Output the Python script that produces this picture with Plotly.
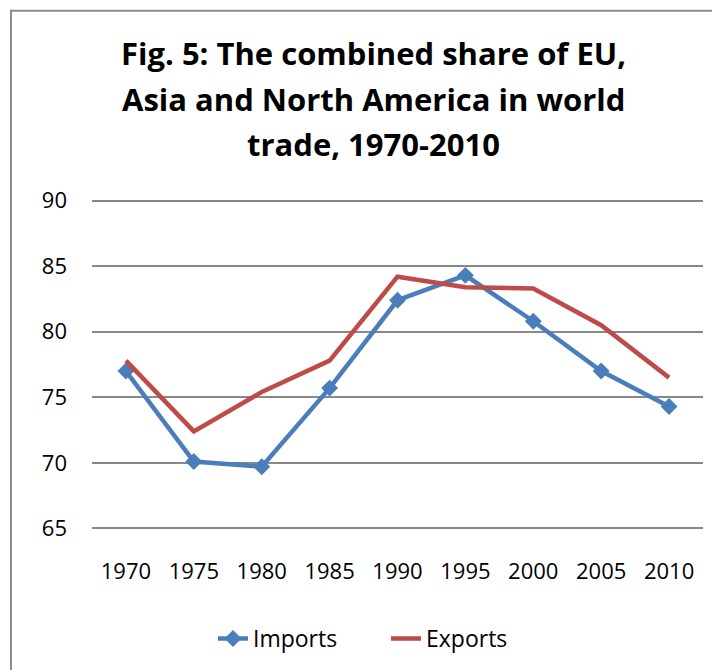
import plotly.graph_objects as go

years = ["1970", "1975", "1980", "1985", "1990", "1995", "2000", "2005", "2010"]
imports = [77.0, 70.1, 69.7, 75.7, 82.4, 84.3, 80.8, 77.0, 74.3]
exports = [77.8, 72.4, 75.4, 77.8, 84.2, 83.4, 83.3, 80.5, 76.5]
title_lines = ["Fig. 5: The combined share of EU,",
               "Asia and North America in world",
               "trade, 1970-2010"]

FONT = "Open Sans"
OFF = 8  # page body margin
W, H = 720 - OFF, 670 - OFF
# target pixel positions in the 720x670 window
Y_TOP, Y_BOT = 90.2, 64.8
UNIT = 13.04
top_px = 200.7 - (Y_TOP - 90) * UNIT
bot_px = 528.0 + (65 - Y_BOT) * UNIT
L = 92 - OFF
R = 720 - 703
T = top_px - OFF
B = 670 - bot_px
pw, ph = W - L - R, H - T - B

def px_x(p):
    return (p - OFF - L) / pw

def px_y(p):
    return (H - B - (p - OFF)) / ph

fig = go.Figure()
fig.add_trace(go.Scatter(x=years, y=imports, name="Imports", mode="lines+markers",
                         line=dict(color="#4A7EBB", width=4.5),
                         marker=dict(symbol="diamond", size=13, color="#4A7EBB")))
fig.add_trace(go.Scatter(x=years, y=exports, name="Exports", mode="lines",
                         line=dict(color="#BE4B48", width=4.5)))

for txt, py in zip(title_lines, [53, 99, 144]):
    fig.add_annotation(text=f"<b>{txt}</b>", xref="paper", yref="paper",
                       x=px_x(373), y=px_y(py), xanchor="center", yanchor="middle",
                       showarrow=False, font=dict(family=FONT, size=31, color="black"))

# outer chart border (left and top)
fig.add_shape(type="line", xref="paper", yref="paper",
              x0=px_x(11), x1=px_x(11), y0=px_y(10), y1=px_y(690),
              line=dict(color="#8C8C8C", width=2))
fig.add_shape(type="line", xref="paper", yref="paper",
              x0=px_x(10), x1=px_x(740), y0=px_y(11), y1=px_y(11),
              line=dict(color="#8C8C8C", width=2))

fig.update_layout(
    width=W, height=H,
    margin=dict(l=L, r=R, t=T, b=B, autoexpand=False),
    paper_bgcolor="white", plot_bgcolor="white",
    font=dict(family=FONT, size=22, color="black"),
    showlegend=True,
    legend=dict(orientation="h", x=px_x(386), xanchor="center",
                y=px_y(638), yanchor="middle", font=dict(size=23),
                entrywidth=128, entrywidthmode="pixels"),
    xaxis=dict(type="category", range=[-0.5, 8.5], showgrid=False, zeroline=False,
               showline=False, ticks="", ticklabelstandoff=25),
    yaxis=dict(range=[Y_BOT, Y_TOP], dtick=5, tick0=65, showgrid=True, gridcolor="#888888",
               gridwidth=1.6, zeroline=False, showline=False, ticks="",
               ticklabelstandoff=24),
)

fig.write_html("out.html")
